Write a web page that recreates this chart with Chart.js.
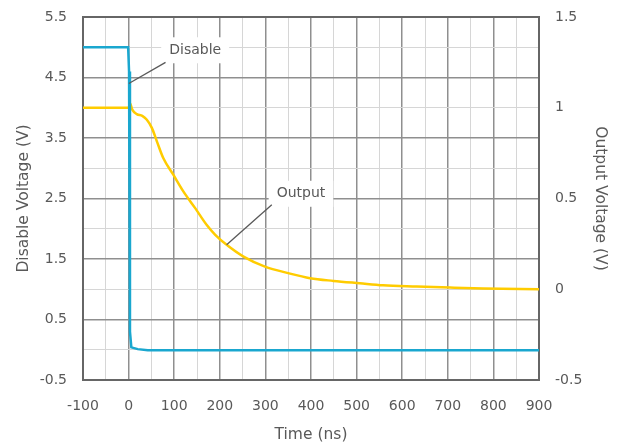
<!DOCTYPE html>
<html>
<head>
<meta charset="utf-8">
<script src="https://cdn.jsdelivr.net/npm/chart.js@4/dist/chart.umd.min.js"></script>
<style>
html,body{margin:0;padding:0;background:#fff;}
#wrap{width:626px;height:446px;position:relative;}
</style>
</head>
<body>
<div id="wrap"><canvas id="c" width="626" height="446"></canvas></div>
<script>
// ---- data ----
const disableTime = [-100, -1, 1, 3, 6, 20, 42, 900];
const disableVolt = [5.0, 5.0, 4.6, 0.3, 0.04, 0.01, -0.01, -0.01];

const outputTime = [-100, 0, 3, 8, 18, 30, 40, 51, 62, 76, 98, 120, 146, 171, 190, 215, 252, 299, 350, 398, 449, 507, 558, 632, 705, 778, 900];
const outputVolt = [1.0, 1.0, 1.025, 0.99, 0.965, 0.955, 0.934, 0.889, 0.815, 0.723, 0.631, 0.539, 0.447, 0.355, 0.3, 0.245, 0.18, 0.125, 0.089, 0.061, 0.046, 0.033, 0.022, 0.015, 0.009, 0.004, 0.0];

const xTickLabels = [-100, 0, 100, 200, 300, 400, 500, 600, 700, 800, 900];
const leftTickLabels = [-0.5, 0.5, 1.5, 2.5, 3.5, 4.5, 5.5];
const rightTickLabels = [-0.5, 0, 0.5, 1, 1.5];

// callouts (data units)
const calloutLabels = ['Disable', 'Output'];
const calloutAnchorX = [0.5, 215];
const calloutAnchorY = [4.4, 0.245];
const calloutEndX = [81, 314];
const calloutEndY = [4.75, 0.466];
const calloutTextX = [146, 378];
const calloutTextY = [4.95, 0.526];
const calloutAxis = ['y', 'y2'];

const TEXT = '#595959';
const MAJOR = '#8f8f8f';
const MINOR = '#d6d6d6';
Chart.defaults.font.family = "'DejaVu Sans', Verdana, sans-serif";
Chart.defaults.color = TEXT;

const inList = (arr, v) => arr.some(a => Math.abs(a - v) < 1e-9);

const framePlugin = {
  id: 'frame',
  beforeDatasetsDraw(chart) {
    const {ctx, chartArea: a} = chart;
    ctx.save();
    ctx.strokeStyle = '#666666';
    ctx.lineWidth = 2;
    ctx.strokeRect(a.left, a.top, a.right - a.left, a.bottom - a.top);
    ctx.restore();
  }
};

const calloutPlugin = {
  id: 'callouts',
  afterDatasetsDraw(chart) {
    const {ctx} = chart;
    const xs = chart.scales.x;
    ctx.save();
    ctx.font = "14px 'DejaVu Sans'";
    calloutLabels.forEach((lab, i) => {
      const ys = chart.scales[calloutAxis[i]];
      const ax = xs.getPixelForValue(calloutAnchorX[i]);
      const ay = ys.getPixelForValue(calloutAnchorY[i]);
      const ex = xs.getPixelForValue(calloutEndX[i]);
      const ey = ys.getPixelForValue(calloutEndY[i]);
      const tx = xs.getPixelForValue(calloutTextX[i]);
      const ty = ys.getPixelForValue(calloutTextY[i]);
      const w = ctx.measureText(lab).width;
      ctx.fillStyle = '#ffffff';
      ctx.fillRect(tx - w / 2 - 8, ty - 13, w + 16, 26);
      ctx.strokeStyle = '#595959';
      ctx.lineWidth = 1.3;
      ctx.beginPath();
      ctx.moveTo(ax, ay);
      ctx.lineTo(ex, ey);
      ctx.stroke();
      ctx.fillStyle = TEXT;
      ctx.textAlign = 'center';
      ctx.textBaseline = 'middle';
      ctx.fillText(lab, tx, ty);
    });
    ctx.restore();
  }
};

const fitV = w => s => { s.width = w; s.paddingTop = 0; s.paddingBottom = 0; };

new Chart(document.getElementById('c'), {
  type: 'line',
  data: {
    datasets: [
      {
        label: 'Disable',
        data: disableTime.map((t, i) => ({x: t, y: disableVolt[i]})),
        borderColor: '#1aa7cf',
        borderWidth: 2.5,
        pointRadius: 0,
        tension: 0,
        yAxisID: 'y'
      },
      {
        label: 'Output',
        data: outputTime.map((t, i) => ({x: t, y: outputVolt[i]})),
        borderColor: '#ffcc00',
        borderWidth: 2.5,
        pointRadius: 0,
        cubicInterpolationMode: 'monotone',
        yAxisID: 'y2'
      }
    ]
  },
  options: {
    responsive: false,
    animation: false,
    layout: {padding: {top: 17, left: 0, right: 0, bottom: 0}},
    plugins: {legend: {display: false}, tooltip: {enabled: false}},
    scales: {
      x: {
        type: 'linear',
        min: -100, max: 900,
        afterFit(s) { s.height = 66; s.paddingLeft = 0; s.paddingRight = 0; },
        border: {display: false},
        grid: {
          drawTicks: false,
          color: c => inList(xTickLabels, c.tick.value) ? MAJOR : MINOR,
          lineWidth: c => inList(xTickLabels, c.tick.value) ? 1.5 : 1
        },
        ticks: {
          stepSize: 50,
          padding: 18,
          maxRotation: 0,
          autoSkip: false,
          font: {size: 14},
          callback: v => inList(xTickLabels, v) ? String(v) : ''
        },
        title: {display: true, text: 'Time (ns)', font: {size: 15.5}, padding: {top: 0, bottom: 2}, color: TEXT}
      },
      y: {
        position: 'left',
        min: -0.5, max: 5.5,
        afterFit: fitV(83),
        border: {display: false},
        grid: {
          drawTicks: false,
          color: c => inList(leftTickLabels, c.tick.value) ? MAJOR : MINOR,
          lineWidth: c => inList(leftTickLabels, c.tick.value) ? 1.5 : 1
        },
        ticks: {
          stepSize: 0.5,
          padding: 16,
          autoSkip: false,
          font: {size: 14},
          callback: v => inList(leftTickLabels, v) ? String(v) : ''
        },
        title: {display: true, text: 'Disable Voltage (V)', font: {size: 15.5}, padding: {top: 15, bottom: 0}, color: TEXT}
      },
      y2: {
        position: 'right',
        min: -0.5, max: 1.5,
        afterFit: fitV(87),
        border: {display: false},
        grid: {display: false, drawTicks: false},
        ticks: {
          stepSize: 0.5,
          padding: 16,
          autoSkip: false,
          font: {size: 14},
          callback: v => inList(rightTickLabels, v) ? String(v) : ''
        },
        title: {display: true, text: 'Output Voltage (V)', font: {size: 15.5}, padding: {top: 17, bottom: 0}, color: TEXT}
      }
    }
  },
  plugins: [framePlugin, calloutPlugin]
});
</script>
</body>
</html>
